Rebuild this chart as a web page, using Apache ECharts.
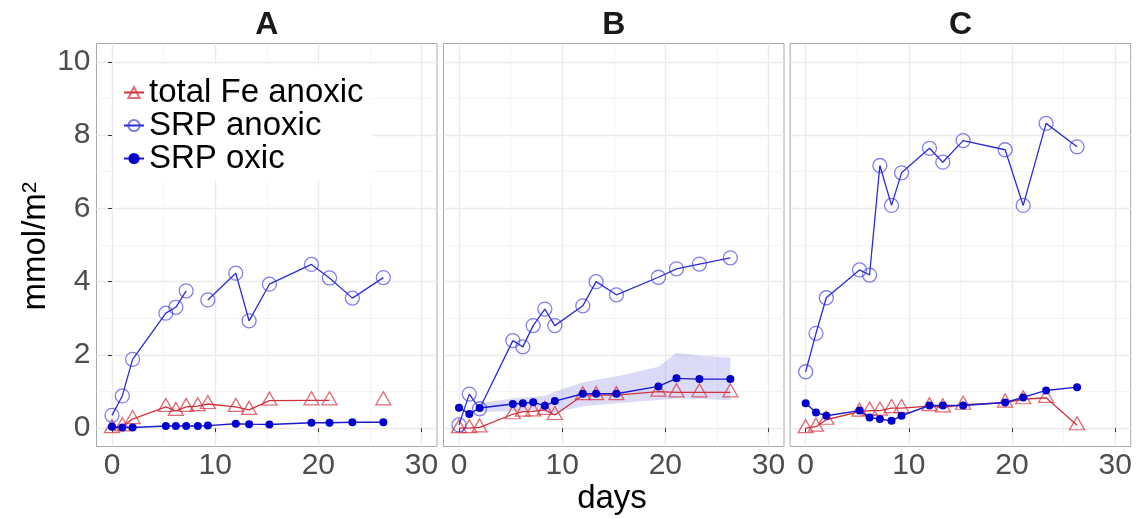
<!DOCTYPE html>
<html>
<head>
<meta charset="utf-8">
<script src="https://cdn.jsdelivr.net/npm/echarts@6/dist/echarts.min.js"></script>
<style>html,body{margin:0;padding:0;background:#fff}#c{width:1141px;height:519px}</style>
</head>
<body>
<div id="c"></div>
<script>
// ---- data ----
const panelTitles = ['A', 'B', 'C'];
const seriesNames = ['total Fe anoxic', 'SRP anoxic', 'SRP oxic'];
const days = [0, 1, 2, 5.22, 6.19, 7.19, 8.32, 9.29, 12.0, 13.29, 15.26, 19.33, 21.08, 23.3, 26.3];

const feA      = [0.0, 0.05, 0.25, 0.58, 0.47, 0.58, 0.6, 0.66, 0.58, 0.5, 0.75, 0.76, 0.76, null, 0.76];
const srpAnoxA = [0.35, 0.88, 1.88, 3.14, 3.3, 3.75, null, 3.5, 4.23, 2.93, 3.93, 4.47, 4.1, 3.55, 4.11];
const srpOxA   = [0.04, 0.02, 0.02, 0.06, 0.06, 0.06, 0.06, 0.07, 0.12, 0.11, 0.1, 0.15, 0.15, 0.16, 0.16];

const feB      = [0.0, 0.0, 0.02, 0.38, 0.45, 0.46, 0.5, 0.36, 0.9, 0.9, 0.9, 1.0, 0.98, 0.98, 0.98];
const srpAnoxB = [0.09, 0.93, 0.53, 2.39, 2.22, 2.8, 3.25, 2.8, 3.34, 4.0, 3.64, 4.12, 4.35, 4.48, 4.65];
const srpOxB   = [0.56, 0.39, 0.55, 0.66, 0.68, 0.71, 0.61, 0.74, 0.94, 0.94, 0.94, 1.14, 1.36, 1.34, 1.34];

const feC      = [0.0, 0.04, 0.23, 0.45, 0.48, 0.48, 0.55, 0.55, 0.6, 0.57, 0.64, 0.7, 0.79, 0.83, 0.08];
const srpAnoxC = [1.54, 2.59, 3.56, 4.32, 4.18, 7.17, 6.08, 6.97, 7.64, 7.26, 7.85, 7.6, 6.08, 8.32, 7.68];
const srpOxC   = [0.68, 0.43, 0.34, 0.48, 0.29, 0.25, 0.2, 0.34, 0.62, 0.62, 0.62, 0.7, 0.84, 1.03, 1.12];

// ribbon around SRP oxic in panel B (from day 2 on)
const ribbonDaysB = [2, 5.22, 6.19, 7.19, 8.32, 9.29, 12.0, 13.29, 15.26, 19.33, 21.08, 23.3, 26.3];
const ribbonLowB  = [0.45, 0.46, 0.46, 0.46, 0.45, 0.43, 0.6, 0.63, 0.68, 0.77, 0.81, 0.8, 0.76];
const ribbonHighB = [0.68, 0.82, 0.84, 0.86, 0.88, 1.0, 1.25, 1.32, 1.41, 1.68, 2.06, 1.98, 1.92];

const xTicks = [0, 10, 20, 30];
const yTicks = [0, 2, 4, 6, 8, 10];

// ---- styling / layout ----
const FONT = '"Liberation Sans", Arial, Helvetica, sans-serif';
const gridLefts = [96.5, 443.5, 790.2];
const gridTop = 43.5, gridW = 340.5, gridH = 403;
const RED = '#d0323c', RED_PT = 'rgba(214,50,62,0.72)';
const BLUE = '#2c2cd4', BLUE_PT = 'rgba(50,50,220,0.62)';
const DARKBLUE = '#0000cd';

const panelData = [
  { fe: feA, an: srpAnoxA, ox: srpOxA },
  { fe: feB, an: srpAnoxB, ox: srpOxB },
  { fe: feC, an: srpAnoxC, ox: srpOxC }
];

function pair(xs, ys) { return xs.map((x, i) => [x, ys[i] == null ? '-' : ys[i]]); }

function ribbonRender(params, api) {
  if (params.dataIndexInside !== 0) return null;
  const n = params.dataInsideLength;
  const upper = [], lower = [];
  for (let k = 0; k < n; k++) {
    const x = api.value(0, k);
    lower.push(api.coord([x, api.value(1, k)]));
    upper.push(api.coord([x, api.value(2, k)]));
  }
  const pts = lower.concat(upper.reverse());
  return { type: 'polygon', shape: { points: pts }, style: { fill: 'rgba(110,110,225,0.25)', stroke: null }, silent: true };
}

const grids = [], xAxes = [], yAxes = [], series = [];
panelData.forEach((p, i) => {
  grids.push({ left: gridLefts[i], top: gridTop, width: gridW, height: gridH, show: true,
    backgroundColor: '#fff', borderColor: '#a8a8a8', borderWidth: 1, containLabel: false });
  xAxes.push({ gridIndex: i, type: 'value', min: -1.5, max: 31.5, splitNumber: 3,
    minInterval: 10, maxInterval: 10,
    axisLine: { show: false },
    axisTick: { show: true, length: 4, lineStyle: { color: '#333' }, customValues: xTicks },
    axisLabel: { fontSize: 30, color: '#4d4d4d', fontFamily: FONT, margin: 4, customValues: xTicks },
    splitLine: { show: true, lineStyle: { color: '#ebebeb', width: 1.4 } },
    minorTick: { show: false, splitNumber: 2 },
    minorSplitLine: { show: true, lineStyle: { color: '#f3f3f3', width: 0.8 } } });
  yAxes.push({ gridIndex: i, type: 'value', min: -0.5, max: 10.5, splitNumber: 5,
    minInterval: 2, maxInterval: 2,
    axisLine: { show: false },
    axisTick: { show: i === 0, length: 4, lineStyle: { color: '#333' }, customValues: yTicks },
    axisLabel: { show: i === 0, fontSize: 30, color: '#4d4d4d', fontFamily: FONT, margin: 6, customValues: yTicks },
    splitLine: { show: true, lineStyle: { color: '#ebebeb', width: 1.4 } },
    minorTick: { show: false, splitNumber: 2 },
    minorSplitLine: { show: true, lineStyle: { color: '#f3f3f3', width: 0.8 } } });

  if (i === 1) {
    series.push({ name: '_ribbonB', type: 'custom', xAxisIndex: i, yAxisIndex: i,
      data: ribbonDaysB.map((d, k) => [d, ribbonLowB[k], ribbonHighB[k]]),
      encode: { x: 0, y: [1, 2] }, renderItem: ribbonRender, silent: true, z: 1, clip: true });
  }
  series.push({ name: seriesNames[0], type: 'line', xAxisIndex: i, yAxisIndex: i, data: pair(days, p.fe),
    symbol: 'triangle', symbolSize: [15, 13], symbolOffset: [0, -2], showAllSymbol: true, connectNulls: false,
    lineStyle: { color: RED, width: 1.3 },
    itemStyle: { color: 'rgba(0,0,0,0)', borderColor: RED_PT, borderWidth: 1.3 }, z: 2 });
  series.push({ name: seriesNames[1], type: 'line', xAxisIndex: i, yAxisIndex: i, data: pair(days, p.an),
    symbol: 'circle', symbolSize: 14, showAllSymbol: true, connectNulls: false,
    lineStyle: { color: BLUE, width: 1.3 },
    itemStyle: { color: 'rgba(0,0,0,0)', borderColor: BLUE_PT, borderWidth: 1.3 }, z: 3 });
  series.push({ name: seriesNames[2], type: 'line', xAxisIndex: i, yAxisIndex: i, data: pair(days, p.ox),
    symbol: 'circle', symbolSize: 8, showAllSymbol: true, connectNulls: false,
    lineStyle: { color: '#1a1ad0', width: 1.4 },
    itemStyle: { color: DARKBLUE, borderWidth: 0 }, z: 4 });
});

const graphics = panelTitles.map((t, i) => ({
  type: 'text', x: gridLefts[i] + gridW / 2, y: 25, z: 10,
  style: { text: t, fill: '#1a1a1a', fontSize: 32, fontWeight: 'bold', fontFamily: FONT,
    align: 'center', verticalAlign: 'middle' }
}));
graphics.push({ type: 'text', x: 612, y: 499, z: 10,
  style: { text: 'days', fill: '#000', fontSize: 33, fontFamily: FONT, align: 'center', verticalAlign: 'middle' } });
graphics.push({ type: 'text', x: 36, y: 246, rotation: Math.PI / 2, z: 10,
  style: { text: '{a|mmol/m}{b|2}', fill: '#000', fontFamily: FONT, align: 'center', verticalAlign: 'middle',
    rich: { a: { fontSize: 33, fontFamily: FONT, fill: '#000' },
            b: { fontSize: 21, fontFamily: FONT, fill: '#000', verticalAlign: 'top' } } } });

const chart = echarts.init(document.getElementById('c'), null, { renderer: 'canvas' });
chart.setOption({
  animation: false,
  backgroundColor: '#fff',
  grid: grids, xAxis: xAxes, yAxis: yAxes, series: series,
  legend: { data: seriesNames, orient: 'vertical', left: 113, top: 65, backgroundColor: '#fff',
    padding: [11, 8, 6, 10], itemWidth: 20, itemHeight: 14, itemGap: 0,
    textStyle: { fontSize: 33, color: '#000', fontFamily: FONT, lineHeight: 32 } , z: 20 },
  graphic: graphics
});
</script>
</body>
</html>
